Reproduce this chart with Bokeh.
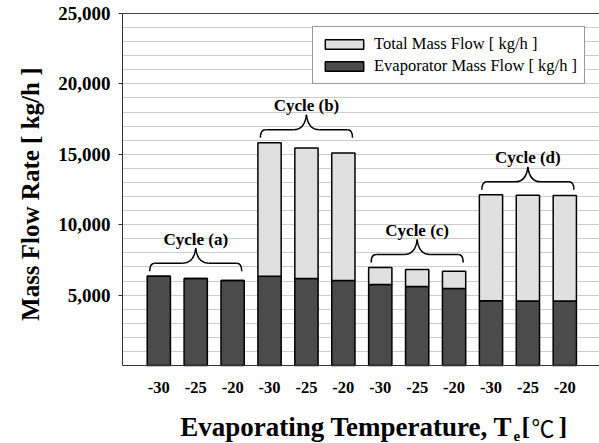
from bokeh.plotting import figure
from bokeh.models import (ColumnDataSource, FixedTicker, SingleIntervalTicker,
                          NumeralTickFormatter, Legend, LegendItem,
                          LinearAxis, Range1d, Span, Title)
from bokeh.core.properties import value
from bokeh.embed import file_html
from bokeh.resources import INLINE

# ---------------- data ----------------
temp_labels = ["-30", "-25", "-20", "-30", "-25", "-20",
               "-30", "-25", "-20", "-30", "-25", "-20"]
cycle_names = ["Cycle (a)", "Cycle (b)", "Cycle (c)", "Cycle (d)"]
evap_flow = [6340, 6180, 6040, 6340, 6180, 6040,
             5750, 5610, 5470, 4590, 4580, 4580]
total_flow = [6340, 6180, 6040, 15820, 15440, 15100,
              6960, 6820, 6700, 12120, 12100, 12070]
y_ticks = [5000, 10000, 15000, 20000, 25000]
y_max = 25000

# ---------------- geometry ----------------
W, H = 599, 443
FL, FT = 122, 13
AXIS_Y = 365                      # canvas row of the value 0
frame_w = W - FL
XPX = 12.924 / frame_w            # data units per pixel (x)
YPX = y_max / (AXIS_Y - FT)       # data units per pixel (y)
x0r = -0.984
x1r = x0r + frame_w * XPX
y0r = -(H - AXIS_Y) * YPX


def X(px):
    return x0r + (px - FL) * XPX


def Y(py):
    return (AXIS_Y - py) * YPX


p = figure(width=W, height=H, output_backend="svg", toolbar_location=None,
           x_range=Range1d(x0r, x1r), y_range=Range1d(y0r, y_max),
           x_axis_type=None,
           min_border_left=FL, min_border_right=0, min_border_top=FT,
           min_border_bottom=0)
p.outline_line_color = None
p.background_fill_color = "white"
p.border_fill_color = "white"

xs = list(range(len(temp_labels)))
src = ColumnDataSource(dict(x=xs, evap=evap_flow, total=total_flow))

BW = 0.63
r_evap = p.vbar(x="x", top="evap", bottom=0, width=BW, source=src,
                fill_color="#4b4b4b", line_color="black", line_width=1.5)
r_tot = p.vbar(x="x", top="total", bottom="evap", width=BW, source=src,
               fill_color="#e0e0e0", line_color="black", line_width=1.5)

SERIF = "Liberation Serif"

# y axis
ya = p.yaxis[0]
ya.bounds = (0, y_max)
ya.ticker = FixedTicker(ticks=y_ticks)
ya.formatter = NumeralTickFormatter(format="0,0")
ya.major_label_text_font = SERIF
ya.major_label_text_font_style = "bold"
ya.major_label_text_font_size = "19px"
ya.major_label_text_color = "black"
ya.major_tick_out = 4
ya.major_tick_in = 0
ya.minor_tick_out = 0
ya.minor_tick_in = 0
ya.major_label_standoff = 8
ya.axis_line_color = "#333333"
ya.major_tick_line_color = "#333333"

# y-axis title, placed against the top of the value axis
p.add_layout(Title(text="Mass Flow Rate [ kg/h ]", align="right", offset=54,
                   vertical_align="top",
                   text_font=SERIF, text_font_style="bold",
                   text_font_size="25px", text_color="black", standoff=20),
             "left")

# grid
p.ygrid.ticker = SingleIntervalTicker(interval=1000)
p.ygrid.bounds = (0, y_max)
p.ygrid.grid_line_color = "#cccccc"
p.ygrid.grid_line_width = 1.2

# top border line
top_ax = LinearAxis(major_tick_out=0, major_tick_in=0, minor_tick_out=0,
                    minor_tick_in=0, major_label_text_font_size="0px",
                    axis_line_color="#444444", ticker=FixedTicker(ticks=[]))
p.add_layout(top_ax, "above")

# bottom axis line (value 0)
p.add_layout(Span(location=0, dimension="width", line_color="#333333",
                  line_width=1.2))

# category (temperature) labels
p.text(x=xs, y=[Y(387)] * len(xs), text=temp_labels, text_font=value(SERIF),
       text_font_style="bold", text_font_size="16.5px", text_align="center",
       text_baseline="middle", text_color="black")

# braces
bx0, by0, bx1, by1, bcx0, bcy0, bcx1, bcy1 = ([] for _ in range(8))
fx0, fy0, fx1, fy1 = [], [], [], []
lab_x, lab_y = [], []
for g in range(len(cycle_names)):
    i0, i1 = 3 * g, 3 * g + 2
    top = max(total_flow[i0:i1 + 1])
    xl = i0 - BW / 2 + 2.5 * XPX
    xr = i1 + BW / 2 - 2.5 * XPX
    xm = (xl + xr) / 2
    yb = top + 5 * YPX
    yf = top + 13 * YPX
    yt = top + 28 * YPX
    for s in (1, -1):
        xe = xl if s == 1 else xr
        # hook
        bx0.append(xe); by0.append(yb)
        bx1.append(xe + s * 5 * XPX); by1.append(yf)
        bcx0.append(xe); bcy0.append(yb + 6 * YPX)
        bcx1.append(xe + s * 1.5 * XPX); bcy1.append(yf)
        # flat
        fx0.append(xe + s * 5 * XPX); fy0.append(yf)
        fx1.append(xm - s * 13 * XPX); fy1.append(yf)
        # rise
        bx0.append(xm - s * 13 * XPX); by0.append(yf)
        bx1.append(xm); by1.append(yt)
        bcx0.append(xm - s * 5 * XPX); bcy0.append(yf)
        bcx1.append(xm - s * 1 * XPX); bcy1.append(yf + 6 * YPX)
    lab_x.append(xm)
    lab_y.append(top + 37 * YPX)

p.bezier(x0=bx0, y0=by0, x1=bx1, y1=by1, cx0=bcx0, cy0=bcy0, cx1=bcx1,
         cy1=bcy1, line_color="black", line_width=1.5)
p.segment(x0=fx0, y0=fy0, x1=fx1, y1=fy1, line_color="black", line_width=1.5)
p.text(x=lab_x, y=lab_y, text=cycle_names, text_font=value(SERIF),
       text_font_style="bold", text_font_size="17px", text_align="center",
       text_baseline="middle", text_color="black")

# legend
legend = Legend(items=[LegendItem(label="Total Mass Flow [ kg/h ]", renderers=[r_tot]),
                       LegendItem(label="Evaporator Mass Flow [ kg/h ]", renderers=[r_evap])],
                location=(190, H - 84), orientation="vertical",
                glyph_width=48, glyph_height=12, label_standoff=6,
                padding=7, spacing=2, margin=0,
                label_text_font=SERIF, label_text_font_size="16.5px",
                label_text_color="black",
                border_line_color="#333333", border_line_width=1,
                background_fill_color="white", background_fill_alpha=1.0)
p.add_layout(legend, "center")

# x-axis title with subscript (vertical centres of each piece)
MID = 426
p.text(x=[X(512)], y=[Y(MID)], text=["Evaporating Temperature, T"],
       text_align="right", text_baseline="middle",
       text_font=value(SERIF), text_font_style="bold",
       text_font_size="27px", text_color="black")
p.text(x=[X(513)], y=[Y(435)], text=["e"], text_align="left",
       text_baseline="middle", text_font=value(SERIF),
       text_font_style="bold", text_font_size="15px", text_color="black")
p.text(x=[X(521), X(558)], y=[Y(MID), Y(MID)], text=["[", "]"],
       text_align="left", text_baseline="middle", text_font=value(SERIF),
       text_font_style="bold", text_font_size="26px", text_color="black")
p.text(x=[X(531)], y=[Y(MID)], text=["℃"], text_align="left",
       text_baseline="middle", text_font=value("Noto Sans CJK SC"),
       text_font_style="normal", text_font_size="23px", text_color="black")

open("out.html", "w").write(file_html(p, INLINE))
